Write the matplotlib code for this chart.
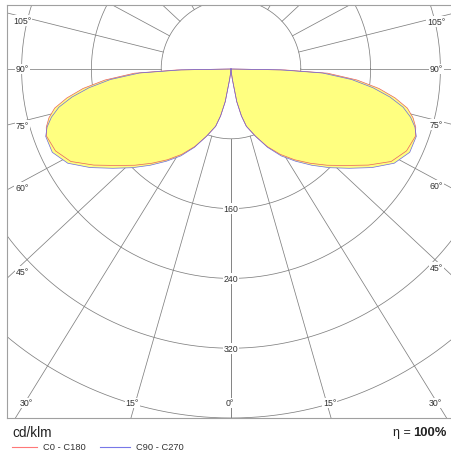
import numpy as np
import matplotlib
matplotlib.use("Agg")
import matplotlib.pyplot as plt

# ---- data (cd/klm) ----
gamma = [0, 5, 7.5, 10, 12.5, 15, 20, 25, 30, 35, 40, 45, 50, 55, 60, 65, 70, 72.5, 75, 77.5, 80, 82.5, 85, 87.5, 89, 90]
c0_c180 = [0, 4, 12, 38, 55, 68, 82, 98, 113, 127, 141, 156, 172, 192, 212, 222, 225, 222, 216, 207, 191, 171, 145, 111, 62, 0]
c90_c270 = [0, 4, 12, 38, 55, 68, 82, 99, 115, 129, 144, 160, 177, 197, 216, 226, 226, 221, 213, 202, 185, 164, 139, 105, 57, 0]
ring_values = [80, 160, 240, 320, 400]
ring_labels = ["160", "240", "320"]
angle_step = 15
side_angle_labels = ["45°", "60°", "75°", "90°", "105°"]
bottom_angle_labels = ["30°", "15°", "0°", "15°", "30°"]
series_names = ["C0 - C180", "C90 - C270"]
unit_label = "cd/klm"
eta_label = "100%"

plt.rcParams['font.family'] = ['Liberation Sans', 'DejaVu Sans']

W, H = 451, 452
fig = plt.figure(figsize=(W / 100, H / 100), dpi=100)

s = 0.8725          # px per cd/klm
cx, cy = 231, 70    # pixel centre
k = 1.07            # horizontal spread of the radial grid rays (as drawn in the original)
left_px, right_px, top_px, bot_px = 7, 456, 6, 419
ax = fig.add_axes([left_px / W, 1 - bot_px / H, (right_px - left_px) / W, (bot_px - top_px) / H])
ax.set_xlim((left_px - cx) / s, (right_px - cx) / s)
ax.set_ylim(-(bot_px - cy) / s, (cy - top_px) / s)
ax.set_xticks([]); ax.set_yticks([])
for sp in ax.spines.values():
    sp.set_color('#a0a0a0'); sp.set_linewidth(0.8)

gc = '#808080'
glw = 0.55
t = np.linspace(0, 2 * np.pi, 721)
for r in ring_values:
    ax.plot(r * np.cos(t), r * np.sin(t), color=gc, lw=glw, zorder=1)

def ray_dir(a):
    g = np.radians(a)
    d = np.array([k * np.sin(g), -np.cos(g)])
    return d / np.hypot(*d)

for a in range(0, 181, angle_step):
    d = ray_dir(a)
    for sgn in (-1, 1):
        rr = np.array([ring_values[0], 1200])
        ax.plot(sgn * rr * d[0], rr * d[1], color=gc, lw=glw, zorder=1)

def xy(vals, sgn):
    g = np.radians(gamma)
    v = np.array(vals, float)
    return sgn * v * np.sin(g), -v * np.cos(g)

fillc = '#ffff80'
for vals in (c0_c180, c90_c270):
    for sgn in (-1, 1):
        x, y = xy(vals, sgn)
        ax.fill(x, y, color=fillc, lw=0, zorder=2)
colors = ['#e86060', '#6a6ae0']
for vals, c in zip((c0_c180, c90_c270), colors):
    for sgn in (-1, 1):
        x, y = xy(vals, sgn)
        ax.plot(x, y, color=c, lw=0.5, zorder=3)

fs = 6.3
tc = '#333333'
bb = dict(facecolor='white', edgecolor='none', pad=0.6)
for r, lab in zip(ring_values[1:4], ring_labels):
    ax.text(0, -r, lab, ha='center', va='center', fontsize=fs, color=tc, bbox=bb, zorder=4)

# angle labels on the sides (next to where each ray meets a line just inside the frame)
for i, lab in enumerate(side_angle_labels):
    a = 45 + i * angle_step
    d = ray_dir(a)
    g = np.radians(a)
    off_px = 0 if a == 90 else 4 + 8 * max(0.0, np.cos(g) - 0.3)
    for sgn, xin in ((-1, (cx - 22) / s), (1, (436 - cx) / s)):
        yl = xin * d[1] / d[0] - off_px / s
        ax.text(sgn * xin, yl, lab, ha='center', va='center', fontsize=fs, color=tc, bbox=bb, zorder=4)
# angle labels along the bottom
yb = -(404 - cy) / s
bottom_offsets_px = [-2, 3, 0, 3, -2]
for a, lab, o in zip((-30, -15, 0, 15, 30), bottom_angle_labels, bottom_offsets_px):
    d = ray_dir(abs(a))
    xl = np.sign(a) * ((-yb) * d[0] / (-d[1]) + o / s) if a != 0 else -1.5 / s
    ax.text(xl, yb, lab, ha='center', va='center', fontsize=fs, color=tc, bbox=bb, zorder=4)

# footer
fig.text(12 / W, 1 - 433 / H, unit_label, fontsize=9.8, ha='left', va='center', color='#222222')
fig.text(447 / W, 1 - 433 / H, eta_label, fontsize=9.4, ha='right', va='center', color='#222222', fontweight='bold')
fig.text(411 / W, 1 - 433 / H, "η =", fontsize=9, ha='right', va='center', color='#222222')

lx = [(12, 37), (100, 130)]
tx = [43, 136]
lc = ['#ff7878', '#7878e8']
for (x0, x1), tpos, c, name in zip(lx, tx, lc, series_names):
    fig.add_artist(plt.Line2D([x0 / W, x1 / W], [1 - 447.5 / H] * 2, color=c, lw=0.8))
    fig.text(tpos / W, 1 - 448 / H, name, fontsize=6.7, ha='left', va='center', color='#333333')

fig.savefig('out.png', dpi=100)
